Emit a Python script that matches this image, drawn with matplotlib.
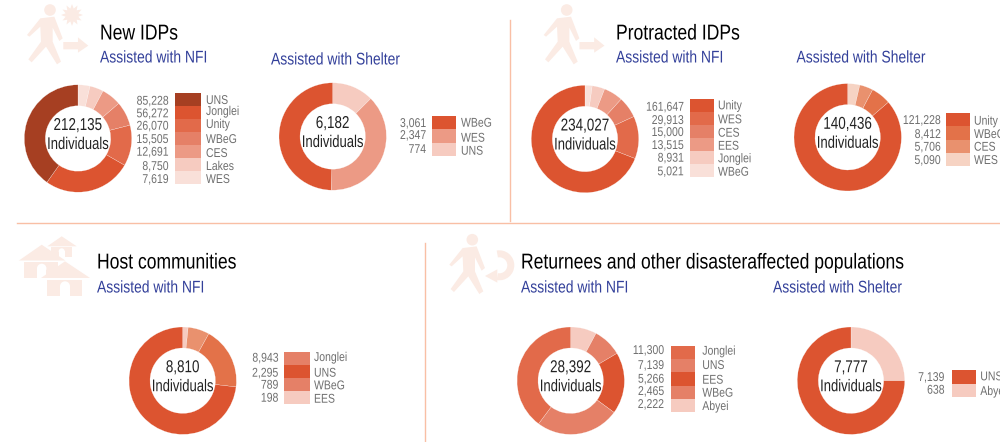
import numpy as np
import matplotlib
matplotlib.use('Agg')
import matplotlib.pyplot as plt
from matplotlib.patches import Circle, Polygon, Rectangle, Wedge
from matplotlib.patheffects import AbstractPathEffect
from matplotlib.transforms import Affine2D

plt.rcParams['font.family'] = ['Liberation Sans', 'DejaVu Sans']

###########################################################
# data, every list is in legend order (top to bottom)

new_nfi_names = ['UNS', 'Jonglei', 'Unity', 'WBeG', 'CES', 'Lakes', 'WES']
new_nfi_vals = [85228, 56272, 26070, 15505, 12691, 8750, 7619]

new_sh_names = ['WBeG', 'WES', 'UNS']
new_sh_vals = [3061, 2347, 774]

prot_nfi_names = ['Unity', 'WES', 'CES', 'EES', 'Jonglei', 'WBeG']
prot_nfi_vals = [161647, 29913, 15000, 13515, 8931, 5021]

prot_sh_names = ['Unity', 'WBeG', 'CES', 'WES']
prot_sh_vals = [121228, 8412, 5706, 5090]

host_names = ['Jonglei', 'UNS', 'WBeG', 'EES']
host_vals = [8943, 2295, 789, 198]

ret_nfi_names = ['Jonglei', 'UNS', 'EES', 'WBeG', 'Abyei']
ret_nfi_vals = [11300, 7139, 5266, 2465, 2222]

ret_sh_names = ['UNS', 'Abyei']
ret_sh_vals = [7139, 638]
# this ring does not follow its labels in the picture, shares read off the ring
ret_sh_ring = [75, 25]

###########################################################
# colours

DARK = '#a63f22'
C1 = '#dc5430'
C2 = '#e26a4a'
C3 = '#e58067'
C4 = '#ec9a85'
C5 = '#f6cbc0'
C6 = '#f9e0d9'
O1 = '#e37249'
O2 = '#e9916e'
O3 = '#f6d3c3'
RULE = '#f9bfa5'
ICON = '#fbebe4'
BLUE = '#33409a'
GREY = '#6f6f6f'

###########################################################
# helpers, all positions in image pixels (y down)

H = 442
fig = plt.figure(figsize=(10, 4.42), dpi=100)
ax = fig.add_axes([0, 0, 1, 1])


def Y(py):
    return H - py


class Narrow(AbstractPathEffect):
    # no narrow font installed, so squeeze the glyphs sideways around the anchor
    def __init__(self, x, k=0.82):
        super().__init__()
        self.x = x
        self.k = k

    def draw_path(self, renderer, gc, tpath, affine, rgbFace=None):
        squeeze = Affine2D().translate(-self.x, 0).scale(self.k, 1).translate(self.x, 0)
        renderer.draw_path(gc, tpath, affine + squeeze, rgbFace)


def label(x, y, s, size, color, ha='left', k=0.82):
    ax.text(x, Y(y + 1), s, ha=ha, va='center', fontsize=size, color=color,
            path_effects=[Narrow(x, k)])


def donut(cx, cy, vals, colors, total):
    # clockwise from the top, smallest legend entry first
    ax.pie(vals[::-1], colors=colors[::-1], startangle=90, counterclock=False,
           center=(cx, Y(cy)), radius=53.7,
           wedgeprops=dict(width=21, edgecolor='white', linewidth=0.15))
    label(cx, cy - 14, total, 12.4, '#222222', ha='center', k=0.78)
    label(cx, cy + 5, 'Individuals', 12.2, '#222222', ha='center', k=0.77)


def legend(x0, x1, top, bottom, colors, names, vals, val_x, val_y, name_x, name_y):
    row = (bottom - top) / len(names)
    for i, name in enumerate(names):
        ax.add_patch(Rectangle((x0, Y(top + (i + 1) * row)), x1 - x0, row, color=colors[i], lw=0))
        label(val_x, val_y[i], format(vals[i], ','), 9.2, GREY, ha='right')
        label(name_x, name_y[i], name, 9.2, GREY)


def shape(hx, hy, pts, k=1 / 3, **kw):
    # outline drawn at 3x size, relative to an anchor point
    ax.add_patch(Polygon([(hx + k * x, Y(hy + k * y)) for x, y in pts], lw=kw.pop('lw', 0), **kw))


def walker(hx, hy):
    ax.add_patch(Circle((hx, Y(hy)), 5.8, color=ICON, lw=0))
    shape(hx, hy, [(-69, 75), (-29, 25), (13, 20), (38, 85), (28, 93), (8, 53), (8, 95),
                   (33, 155), (21, 163), (-12, 110), (-55, 157), (-65, 148), (-27, 95),
                   (-29, 50), (-62, 80)], color=ICON)


def arrow(x, y):
    shape(x, y, [(0, 0), (44, 0), (44, -14), (75, 11), (44, 32), (44, 22), (0, 22)], color=ICON)


def star(cx, cy, r):
    ang = np.arange(24) * np.pi / 12
    rad = np.where(np.arange(24) % 2 == 0, r, r * 0.6)
    ax.add_patch(Polygon(np.c_[cx + rad * np.cos(ang), Y(cy) + rad * np.sin(ang)], color=ICON, lw=0))


def house(ax_x, ax_y, s):
    k = s / 3
    shape(ax_x, ax_y, [(-55, 55), (50, 55), (50, 105), (-55, 105)], k=k, color=ICON)
    shape(ax_x, ax_y, [(0, 0), (75, 50), (-72, 50)], k=k, facecolor=ICON, edgecolor='white', lw=0)
    ax.add_patch(Rectangle((ax_x - 15 * k, Y(ax_y + 105 * k)), 30 * k, 30 * k, color='white', lw=0))
    ax.add_patch(Circle((ax_x, Y(ax_y + 75 * k)), 15 * k, color='white', lw=0))


###########################################################
# dividers and icons

ax.plot([17, 1000], [Y(223), Y(223)], color=RULE, lw=1)
ax.plot([510, 510], [Y(20), Y(221)], color=RULE, lw=1)
ax.plot([425, 425], [Y(243), Y(442)], color=RULE, lw=1)

walker(50, 10)
arrow(63.3, 42)
star(72, 15, 11)

walker(566.7, 10)
arrow(579.5, 42)

walker(472.3, 239.7)
ax.add_patch(Wedge((499.3, Y(265.3)), 15, -100, 100, width=7, color=ICON, lw=0))
shape(485, 276, [(0, 0), (37, -20), (37, 20)], color=ICON)

house(61.7, 236.3, 0.6)
house(41.7, 244.7, 0.95)
house(65, 261.3, 1.0)

###########################################################
# titles

for x, y, s in [(100, 33, 'New IDPs'), (616, 33, 'Protracted IDPs'),
                (97, 262, 'Host communities'),
                (521, 262, 'Returnees and other disasteraffected populations')]:
    label(x, y, s, 15.5, 'black', k=0.815)

for x, y, s in [(100, 57, 'Assisted with NFI'), (271, 59, 'Assisted with Shelter'),
                (616, 57, 'Assisted with NFI'), (796.5, 57, 'Assisted with Shelter'),
                (97, 287, 'Assisted with NFI'),
                (521, 287, 'Assisted with NFI'), (773, 287, 'Assisted with Shelter')]:
    label(x, y, s, 12.2, BLUE)

###########################################################
# the seven donuts

cols = [DARK, C1, C2, C3, C4, C5, C6]
donut(78, 138.5, new_nfi_vals, cols, '212,135')
legend(175, 201, 93, 184, cols, new_nfi_names, new_nfi_vals,
       168.5, [100.7, 113.3, 125.7, 139, 151.7, 166, 179],
       206, [100, 111, 124, 139, 153, 166, 179])

cols = [C1, C4, C5]
donut(332.7, 136.5, new_sh_vals, cols, '6,182')
legend(432, 456, 116, 156, cols, new_sh_names, new_sh_vals,
       426, [123, 135, 149], 461, [122.7, 137.7, 150.7])

cols = [C1, C2, C3, C4, C5, C6]
donut(585, 139, prot_nfi_vals, cols, '234,027')
legend(690, 714, 99, 177, cols, prot_nfi_names, prot_nfi_vals,
       683.7, [106.7, 120, 132, 145, 157.7, 171.3],
       718, [105.3, 119.3, 132.7, 145.7, 158.3, 171.7])

cols = [C1, O1, O2, O3]
donut(847.7, 137.3, prot_sh_vals, cols, '140,436')
legend(946, 970, 113, 166, cols, prot_sh_names, prot_sh_vals,
       940.7, [120, 134, 146.7, 160], 974, [120.7, 134, 146.7, 160])

# host ring has its own colours, different from its legend
donut(182.7, 380.7, host_vals, [C1, O1, O2, C5], '8,810')
legend(284, 310, 352, 404, [C3, C1, C3, C5], host_names, host_vals,
       278.3, [357.7, 372.7, 384.7, 397.7], 314, [357, 372.7, 385.3, 398.7])

cols = [C2, C3, C1, C3, C5]
donut(570.7, 380.7, ret_nfi_vals, cols, '28,392')
legend(671, 695, 346, 412, cols, ret_nfi_names, ret_nfi_vals,
       664, [350, 365, 378.7, 391, 404], 702.3, [350.7, 365, 379.7, 392.7, 406])

cols = [C1, C5]
donut(851, 380.7, ret_sh_ring, cols, '7,777')
legend(952, 976, 370, 397, cols, ret_sh_names, ret_sh_vals,
       944.3, [377, 389.7], 980.3, [376.3, 391])

ax.set_xlim(0, 1000)
ax.set_ylim(0, H)
ax.set_aspect('auto')
ax.axis('off')

fig.savefig('out.png', dpi=100)
